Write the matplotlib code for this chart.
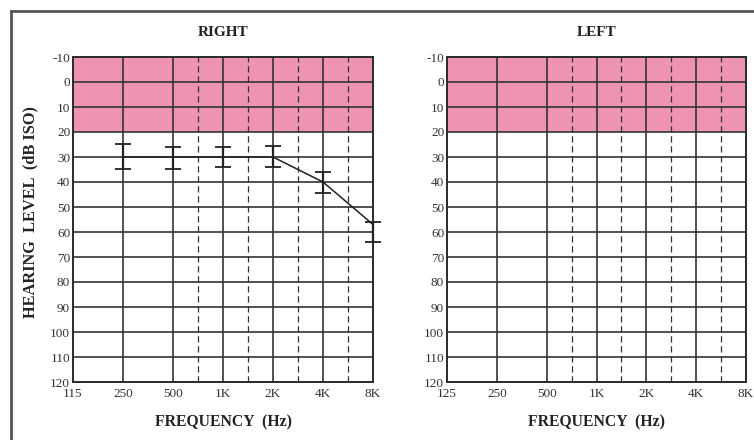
"""
Audiogram: right and left ear hearing thresholds
"""
import matplotlib.pyplot as plt
import numpy as np
from matplotlib.lines import Line2D

plt.rcParams['font.family'] = ['Liberation Serif', 'DejaVu Serif']

# data
freqs = [125, 250, 500, 1000, 2000, 4000, 8000]
half_freqs = [707, 1414, 2828, 5657]  # dashed inter-octave lines (750, 1.5K, 3K, 6K)
right_labels = ['115', '250', '500', '1K', '2K', '4K', '8K']
left_labels = ['125', '250', '500', '1K', '2K', '4K', '8K']
levels = list(range(-10, 121, 10))

right_freq = [250, 500, 1000, 2000, 4000, 8000]
right_db = [30, 30, 30, 30, 40, 57]
right_err_up = [5, 4, 4, 4.5, 4, 1]
right_err_down = [5, 5, 4, 4, 4.5, 7]

pink = '#EF93B3'
grid_col = '#333333'

fig = plt.figure(figsize=(7.54, 4.40), dpi=100)


def draw_panel(ax, labels, title):
    ax.set_xscale('log', base=2)
    ax.set_xlim(125, 8000)
    ax.set_ylim(120, -10)
    ax.axhspan(-10, 20, color=pink, lw=0, zorder=0)
    for f in freqs[1:-1]:
        ax.axvline(f, color=grid_col, lw=1.2, zorder=1)
    for f in half_freqs:
        ax.axvline(f, color=grid_col, lw=0.9, ls=(0, (5, 3)), zorder=1)
    for lv in levels[1:-1]:
        ax.axhline(lv, color=grid_col, lw=1.2, zorder=1)
    ax.set_xticks(freqs)
    ax.set_xticklabels(labels)
    ax.set_yticks(levels)
    ax.set_yticklabels([str(v) for v in levels])
    ax.xaxis.set_minor_locator(plt.NullLocator())
    ax.tick_params(length=0, labelsize=9.5, labelcolor='#333333')
    ax.tick_params(axis='x', pad=4)
    ax.tick_params(axis='y', pad=2)
    for s in ax.spines.values():
        s.set_color('#2a2a2a')
        s.set_linewidth(1.4)
    pos = ax.get_position()
    cx = (pos.x0 + pos.x1) / 2
    fig.text(cx, 1 - 32 / 440, title, ha='center', va='center',
             fontsize=11, fontweight='bold', color='#222222')
    fig.text(cx, 1 - 422 / 440, 'FREQUENCY  (Hz)', ha='center', va='center',
             fontsize=11.3, fontweight='bold', color='#222222')


ax_r = fig.add_axes([73 / 754, 58 / 440, 300 / 754, 325 / 440])
ax_l = fig.add_axes([447 / 754, 58 / 440, 299 / 754, 325 / 440])

draw_panel(ax_r, right_labels, 'RIGHT')
draw_panel(ax_l, left_labels, 'LEFT')

# right ear thresholds
ax_r.plot(right_freq, right_db, color='#222222', lw=1.1, zorder=3, clip_on=False)
ax_r.errorbar(right_freq, right_db, yerr=[right_err_up, right_err_down], fmt='none',
              ecolor='#222222', elinewidth=1.6, capsize=6, capthick=1.3,
              zorder=4, clip_on=False)

fig.text(30 / 754, 1 - 212 / 440, 'HEARING  LEVEL  (dB ISO)', rotation=90,
         ha='center', va='center', fontsize=11.8, fontweight='bold', color='#222222')

# outer frame
fig.add_artist(Line2D([11 / 754, 11 / 754], [0, 1 - 11 / 440], color='#555555', lw=2))
fig.add_artist(Line2D([11 / 754, 1], [1 - 11 / 440, 1 - 11 / 440], color='#555555', lw=2))

fig.savefig('out.png', dpi=100)
